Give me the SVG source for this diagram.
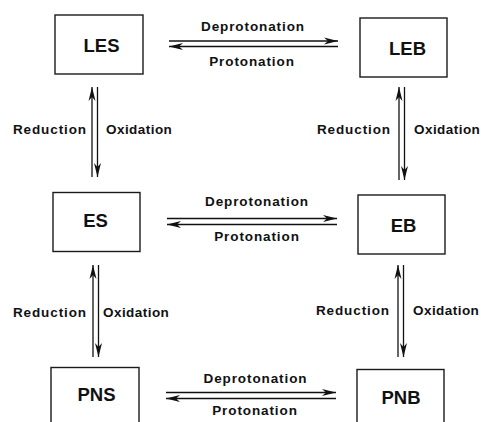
<svg xmlns="http://www.w3.org/2000/svg" width="481" height="422" viewBox="0 0 481 422">
<style>
.box{fill:#fff;stroke:#1a1a1a;stroke-width:1.4}
.node{font-family:"Liberation Sans",Arial,sans-serif;font-weight:bold;font-size:18.5px;fill:#111;text-anchor:middle}
.lbl{font-family:"Liberation Sans",Arial,sans-serif;font-weight:bold;font-size:13.5px;letter-spacing:0.9px;fill:#111}
.ox{letter-spacing:0.45px}
.c{text-anchor:middle}
.e{text-anchor:end}
.ln{stroke:#111;stroke-width:1.3;fill:none;marker-end:url(#ah)}
</style>
<defs>
<marker id="ah" markerUnits="userSpaceOnUse" markerWidth="16" markerHeight="8" refX="14" refY="4" orient="auto" overflow="visible">
<path d="M0,0.5 L14,4 L0,7.5 L4,4 z" fill="#111"/>
</marker>
</defs>
<rect width="481" height="422" fill="#fff"/>
<g id="connectors">
<line class="ln" x1="169" y1="41" x2="338" y2="41"/>
<line class="ln" x1="338" y1="46.5" x2="169" y2="46.5"/>
<line class="ln" x1="167" y1="218.5" x2="337" y2="218.5"/>
<line class="ln" x1="337" y1="224.5" x2="167" y2="224.5"/>
<line class="ln" x1="166" y1="392.5" x2="336" y2="392.5"/>
<line class="ln" x1="336" y1="398.5" x2="166" y2="398.5"/>
<line class="ln" x1="92" y1="177" x2="92" y2="87"/>
<line class="ln" x1="97.5" y1="87" x2="97.5" y2="177"/>
<line class="ln" x1="399" y1="180" x2="399" y2="87"/>
<line class="ln" x1="404.5" y1="87" x2="404.5" y2="180"/>
<line class="ln" x1="93" y1="357" x2="93" y2="265"/>
<line class="ln" x1="98.5" y1="265" x2="98.5" y2="357"/>
<line class="ln" x1="398" y1="357" x2="398" y2="265"/>
<line class="ln" x1="403.5" y1="265" x2="403.5" y2="357"/>
</g>
<g id="labels">
<text class="lbl c" x="253" y="31">Deprotonation</text>
<text class="lbl c" x="252" y="66">Protonation</text>
<text class="lbl c" x="257" y="206">Deprotonation</text>
<text class="lbl c" x="257" y="241">Protonation</text>
<text class="lbl c" x="255.5" y="383">Deprotonation</text>
<text class="lbl c" x="255" y="415">Protonation</text>
<text class="lbl e" x="87" y="134">Reduction</text>
<text class="lbl ox" x="106" y="134">Oxidation</text>
<text class="lbl e" x="391" y="134">Reduction</text>
<text class="lbl ox" x="414" y="134">Oxidation</text>
<text class="lbl e" x="87" y="317">Reduction</text>
<text class="lbl ox" x="103" y="317">Oxidation</text>
<text class="lbl e" x="390" y="315">Reduction</text>
<text class="lbl ox" x="413" y="315">Oxidation</text>
</g>
<g id="LES"><rect class="box" x="55" y="15" width="88" height="59"/><text class="node" x="101.5" y="52">LES</text></g>
<g id="LEB"><rect class="box" x="360" y="18" width="87" height="59"/><text class="node" x="407.5" y="55">LEB</text></g>
<g id="ES"><rect class="box" x="53" y="192.5" width="87" height="59"/><text class="node" x="95.5" y="227">ES</text></g>
<g id="EB"><rect class="box" x="358" y="195" width="87" height="59"/><text class="node" x="403.5" y="231.5">EB</text></g>
<g id="PNS"><rect class="box" x="51" y="367.5" width="88" height="60"/><text class="node" x="96.5" y="401">PNS</text></g>
<g id="PNB"><rect class="box" x="357" y="369.5" width="87" height="60"/><text class="node" x="401" y="404">PNB</text></g>
</svg>
